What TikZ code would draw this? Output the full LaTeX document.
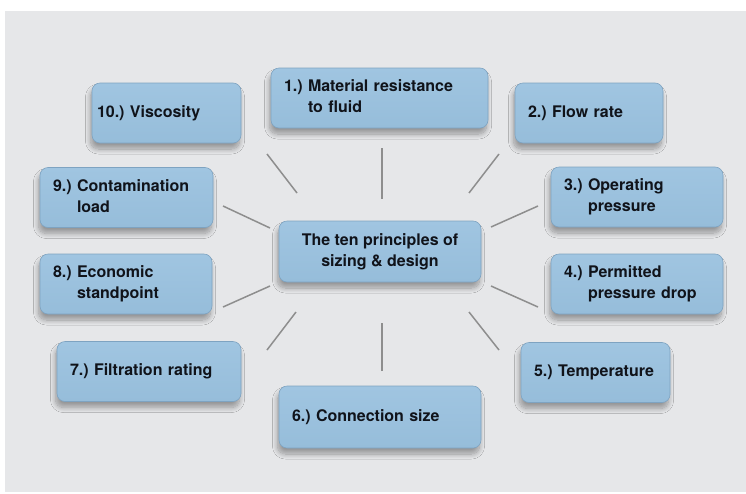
\documentclass[tikz,border=0pt]{standalone}
\usepackage{fontspec}
\setmainfont{TeX Gyre Heros}
\usetikzlibrary{shadows.blur}
\definecolor{panelgray}{HTML}{E6E7E9}
\definecolor{boxblue}{HTML}{96BDDA}
\definecolor{boxtop}{HTML}{A0C5E1}
\definecolor{boxedge}{HTML}{7EA3C1}
\definecolor{spokegray}{HTML}{8E8E8E}
\definecolor{inkdark}{HTML}{10131A}
\tikzset{
    principle/.style={draw=boxedge, line width=0.6pt, top color=boxtop, bottom color=boxblue,
        rounded corners=8pt,
        blur shadow={shadow xshift=-1.5pt, shadow yshift=-6pt, shadow blur radius=5pt,
            shadow blur steps=12, shadow opacity=35},
        minimum height=60pt, inner xsep=13pt, inner ysep=0pt, align=left, text=inkdark,
        font=\fontsize{16}{21}\selectfont\bfseries},
    spoke/.style={draw=spokegray, line width=1.5pt}
}
\newcommand{\pitem}[2]{\begin{tabular}{@{}l@{\ }l@{}}#1&#2\end{tabular}}

\begin{document}
\begin{tikzpicture}[x=1pt,y=-1pt]
    \useasboundingbox (0,0) rectangle (746,493);
    \fill[white] (0,0) rectangle (746,493);
    \fill[panelgray] (5,11) rectangle (746,492);

    % spokes
    \foreach \n/\ax/\ay/\bx/\by in {1/382/148/382/199, 2/499/154/469/193, 3/538/206/491/227,
        4/538/307/491/286, 5/499/350/469/312, 6/382/371/382/323, 7/267/350/296/312,
        8/223/307/270/286, 9/223/206/270/228, 10/267/154/297/193}{
        \coordinate (out\n) at (\ax,\ay);
        \coordinate (in\n) at (\bx,\by);
        \draw[spoke] (out\n) -- (in\n);
    }

    % boxes
    \node[principle, minimum width=202pt, minimum height=61pt, align=center, inner xsep=0pt] (hub) at (380,251.5)
        {The ten principles of\\sizing \& design};
    \node[principle, text width=191pt] (material) at (379.5,98) {\pitem{1.)}{Material resistance\\&to fluid}};
    \node[principle, text width=122pt] (flow) at (589,113) {\pitem{2.)}{Flow rate}};
    \node[principle, text width=146pt] (operating) at (637,197) {\pitem{3.)}{Operating\\&pressure}};
    \node[principle, text width=146pt] (drop) at (637,284) {\pitem{4.)}{Permitted\\&pressure drop}};
    \node[principle, text width=123pt] (temperature) at (595.5,372.5) {\pitem{5.)}{Temperature}};
    \node[principle, text width=176pt, minimum height=62pt] (connection) at (380,417) {\pitem{6.)}{Connection size}};
    \node[principle, text width=158pt] (filtration) at (149,371.5) {\pitem{7.)}{Filtration rating}};
    \node[principle, text width=146pt] (economic) at (126,284) {\pitem{8.)}{Economic\\&standpoint}};
    \node[principle, text width=147pt] (contamination) at (126.5,197.5) {\pitem{9.)}{Contamination\\&load}};
    \node[principle, text width=139pt, inner xsep=5pt] (viscosity) at (166.5,113) {\pitem{10.)}{Viscosity}};
\end{tikzpicture}
\end{document}
